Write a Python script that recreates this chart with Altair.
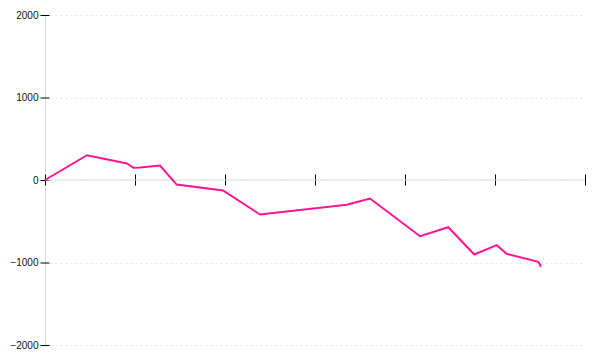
import altair as alt
import pandas as pd

# series values
xs = [0, 0.467, 0.911, 0.981, 1.056, 1.278, 1.463, 1.978, 2.389, 3.352, 3.611,
      4.167, 4.481, 4.770, 5.019, 5.130, 5.481, 5.511]
ys = [0, 300, 200, 148, 152, 176, -55, -127, -418, -300, -224,
      -681, -572, -903, -790, -895, -992, -1052]

x_ticks = [0, 1, 2, 3, 4, 5, 6]
y_ticks = [-2000, -1000, 0, 1000, 2000]

line_df = pd.DataFrame({"x": xs, "y": ys})
xt_df = pd.DataFrame({"x": x_ticks, "y": [0] * len(x_ticks)})
yt_df = pd.DataFrame({"x": [0] * len(y_ticks), "y": y_ticks})
axis_df = pd.DataFrame({"x": [x_ticks[0]], "x2": [x_ticks[-1]], "y": [0]})

xscale = alt.Scale(domain=[x_ticks[0], x_ticks[-1]], nice=False, zero=False)
yscale = alt.Scale(domain=[y_ticks[0], y_ticks[-1]], nice=False)

yaxis = alt.Axis(
    values=y_ticks, title=None, ticks=False, labelPadding=7, format="d",
    labelFont="Liberation Sans", labelFontSize=10, labelColor="#111",
    domainColor="#dddddd", domainWidth=1,
    grid=True, gridColor="#e4e4e4", gridDash=[2, 3], gridWidth=1,
)

X = lambda f: alt.X(f, type="quantitative", scale=xscale, axis=None)
Y = lambda f: alt.Y(f, type="quantitative", scale=yscale, axis=yaxis)

line = alt.Chart(line_df).mark_line(color="#ff1493", strokeWidth=2).encode(
    x=X("x"), y=Y("y")
)

xaxis_rule = alt.Chart(axis_df).mark_rule(color="#dddddd", strokeWidth=1).encode(
    x=X("x"), x2="x2:Q", y=Y("y")
)

xticks = alt.Chart(xt_df).mark_tick(orient="vertical", color="#000", opacity=1,
                                    size=11, thickness=1, xOffset=0.5).encode(
    x=X("x"), y=Y("y")
)

yticks = alt.Chart(yt_df).mark_tick(orient="horizontal", color="#000", opacity=1,
                                    size=9, thickness=1, yOffset=0.5).encode(
    x=X("x"), y=Y("y")
)

chart = alt.layer(xticks, yticks, xaxis_rule, line).properties(
    width=540, height=330,
    padding={"left": 45, "top": 15, "right": 15, "bottom": 15},
    background="white",
).configure(autosize="none").configure_view(stroke=None)

chart.save("out.html", embed_options={"renderer": "svg", "actions": False})
